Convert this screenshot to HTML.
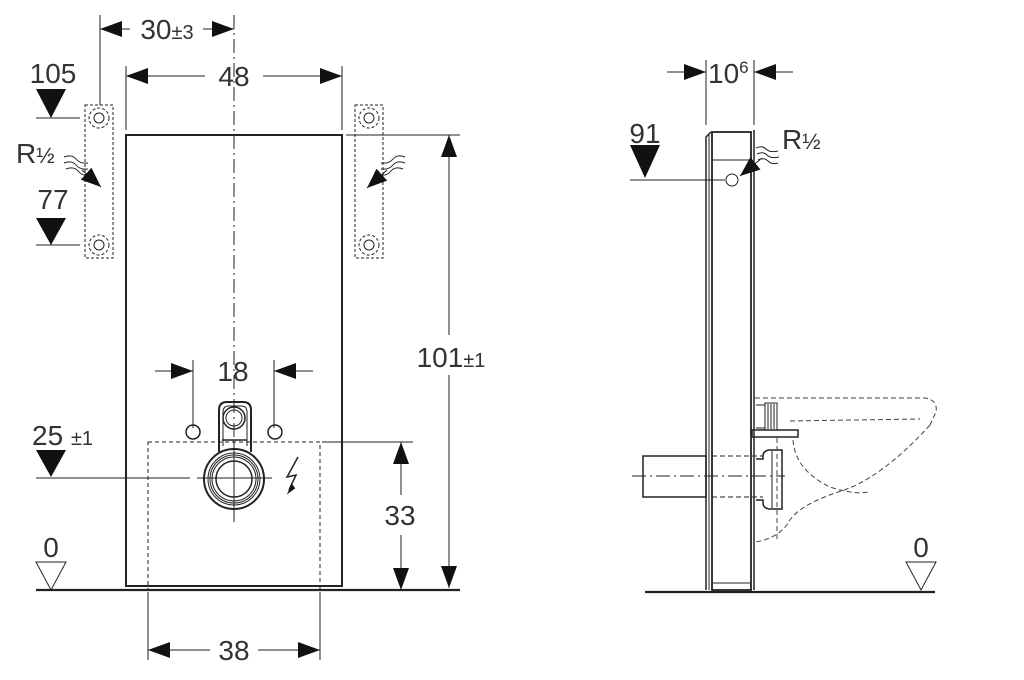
<!DOCTYPE html>
<html><head><meta charset="utf-8"><style>
html,body{margin:0;padding:0;background:#fff}
svg{display:block}
text{font-family:"Liberation Sans",sans-serif;fill:#333}
</style></head><body>
<svg width="1024" height="680" viewBox="0 0 1024 680" xmlns="http://www.w3.org/2000/svg">
<defs>
<marker id="a" viewBox="0 0 22 16" refX="22" refY="8" markerWidth="22" markerHeight="16" markerUnits="userSpaceOnUse" orient="auto"><path d="M0,0L22,8L0,16z" fill="#111"/></marker>
<marker id="b" viewBox="0 0 20 16" refX="20" refY="8" markerWidth="20" markerHeight="16" markerUnits="userSpaceOnUse" orient="auto"><path d="M0,0L20,8L0,16z" fill="#111"/></marker>
</defs>
<g stroke="#222" fill="none" stroke-width="1">
<!-- LEFT VIEW -->
<rect x="126" y="135" width="216" height="451" stroke-width="2"/>
<line x1="36" y1="590" x2="460" y2="590" stroke-width="2.2"/>
<line x1="234" y1="15" x2="234" y2="520" stroke-dasharray="14,4,2,4"/>
<!-- 30±3 -->
<line x1="100" y1="15" x2="100" y2="105"/>
<path d="M130,29 L100,29" marker-end="url(#a)"/>
<path d="M203,29 L234,29" marker-end="url(#a)"/>
<!-- 48 -->
<line x1="126" y1="66" x2="126" y2="130"/>
<line x1="342" y1="66" x2="342" y2="130"/>
<path d="M205,76 L126,76" marker-end="url(#a)"/>
<path d="M263,76 L342,76" marker-end="url(#a)"/>
<!-- brackets -->
<rect x="85" y="105" width="28" height="153" stroke-dasharray="3,2"/>
<rect x="355" y="105" width="28" height="153" stroke-dasharray="3,2"/>
<circle cx="99" cy="118" r="10" stroke-dasharray="3,2"/>
<circle cx="99" cy="245" r="10" stroke-dasharray="3,2"/>
<circle cx="369" cy="118" r="10" stroke-dasharray="3,2"/>
<circle cx="369" cy="245" r="10" stroke-dasharray="3,2"/>
<circle cx="99" cy="118" r="5"/><circle cx="99" cy="245" r="5"/>
<circle cx="369" cy="118" r="5"/><circle cx="369" cy="245" r="5"/>
<line x1="36" y1="118" x2="80" y2="118"/>
<line x1="36" y1="245" x2="80" y2="245"/>
<!-- R arrows -->
<path d="M64,157 q8,-3 12,2 t12,4 M64,163 q8,-3 12,2 t12,4 M66,169 q8,-3 12,2 t10,4"/>
<path d="M82,170 L101,187" marker-end="url(#b)"/>
<path d="M405,157 q-8,-3 -12,2 t-12,4 M405,163 q-8,-3 -12,2 t-12,4 M403,169 q-8,-3 -12,2 t-10,4"/>
<path d="M387,170 L367,188" marker-end="url(#b)"/>
<!-- 101 -->
<line x1="346" y1="135" x2="460" y2="135"/>
<path d="M449,335 L449,135" marker-end="url(#a)"/>
<path d="M449,375 L449,588" marker-end="url(#a)"/>
<!-- 18 -->
<line x1="193" y1="360" x2="193" y2="428"/>
<line x1="274" y1="360" x2="274" y2="428"/>
<path d="M155,371 L193,371" marker-end="url(#a)"/>
<path d="M313,371 L274,371" marker-end="url(#a)"/>
<circle cx="193" cy="432" r="7" stroke-width="1.5"/>
<circle cx="275" cy="432" r="7" stroke-width="1.5"/>
<!-- flush bend -->
<path d="M219,452 L219,410 q0,-8 8,-8 h16 q8,0 8,8 L251,452" stroke-width="2"/>
<path d="M223,446 L223,412 q0,-6 6,-6 h12 q6,0 6,6 L247,446"/>
<circle cx="234" cy="418" r="11" stroke-width="1.5"/>
<circle cx="234" cy="418" r="8"/>
<line x1="222" y1="440" x2="247" y2="440" stroke-width="1.5"/>
<circle cx="234" cy="479" r="30" fill="#fff" stroke-width="2"/>
<circle cx="234" cy="479" r="26"/>
<circle cx="234" cy="479" r="24"/>
<circle cx="234" cy="479" r="22"/>
<circle cx="234" cy="479" r="18" stroke-width="1.5"/>
<line x1="234" y1="440" x2="234" y2="522"/>
<!-- dashed box -->
<rect x="148" y="442" width="172" height="148" stroke-dasharray="4,3"/>
<line x1="322" y1="442" x2="413" y2="442"/>
<path d="M401,495 L401,442" marker-end="url(#a)"/>
<path d="M401,535 L401,590" marker-end="url(#a)"/>
<!-- 25 line -->
<line x1="36" y1="478" x2="190" y2="478"/>
<line x1="197" y1="478" x2="272" y2="478"/>
<!-- lightning -->
<path d="M298,457 L287,477 L296,475 L289,490" stroke-width="1.5"/>
<path d="M292,484 L288,493 L295,488" fill="#111"/>
<!-- 38 -->
<line x1="148" y1="592" x2="148" y2="660"/>
<line x1="320" y1="592" x2="320" y2="660"/>
<path d="M210,650 L148,650" marker-end="url(#a)"/>
<path d="M258,650 L320,650" marker-end="url(#a)"/>
<!-- datum triangles -->
<path d="M36,562 L66,562 L51,590 z"/>
<path d="M906,562 L936,562 L921,590 z"/>
<!-- RIGHT VIEW -->
<line x1="645" y1="592" x2="935" y2="592" stroke-width="2.2"/>
<line x1="706" y1="60" x2="706" y2="125"/>
<line x1="754" y1="60" x2="754" y2="125"/>
<path d="M667,72 L706,72" marker-end="url(#a)"/>
<path d="M793,72 L754,72" marker-end="url(#a)"/>
<path d="M706,590 L706,137 L711,132" stroke-width="1.5"/>
<line x1="709" y1="590" x2="709" y2="135"/>
<rect x="712" y="132" width="39" height="458" stroke-width="1.8"/>
<line x1="713" y1="583" x2="750" y2="583"/>
<line x1="754" y1="130" x2="754" y2="590" stroke-width="1.5"/>
<line x1="712" y1="160" x2="750" y2="160"/>
<circle cx="732" cy="180" r="6"/>
<line x1="630" y1="180" x2="725" y2="180"/>
<path d="M756,148 q6,-3 10,1 t12,2 M757,154 q6,-3 10,1 t12,2 M758,160 q6,-3 10,1 t10,2"/>
<path d="M762,158 L740,176" marker-end="url(#b)"/>
<!-- pipe -->
<rect x="643" y="456" width="63" height="41" stroke-width="1.5"/>
<line x1="632" y1="476" x2="785" y2="476" stroke-dasharray="14,4,2,4"/>
<line x1="712" y1="456" x2="763" y2="456" stroke-dasharray="5,3"/>
<line x1="712" y1="497" x2="763" y2="497" stroke-dasharray="5,3"/>
<!-- connector -->
<path d="M756,459 h7 v-3 q0,-5 6,-6 h13 v59 h-13 q-6,-1 -6,-6 v-3 h-7" stroke-width="1.5"/>
<line x1="772" y1="451" x2="772" y2="508"/>
<!-- shelf/bolt -->
<rect x="752" y="430" width="46" height="7" stroke-width="1.5"/>
<rect x="765" y="403" width="12" height="27"/>
<line x1="768" y1="404" x2="768" y2="429"/><line x1="771" y1="404" x2="771" y2="429"/><line x1="774" y1="404" x2="774" y2="429"/>
<path d="M756,405 h9 M756,428 h9"/>
<!-- toilet dashed -->
<g stroke-dasharray="5,3" stroke="#444">
<path d="M755,398 L925,398 Q938,400 936,412 L930,425"/>
<path d="M790,421 L920,419"/>
<path d="M930,425 Q880,480 838,492 Q800,505 790,520 Q780,538 755,542"/>
<path d="M793,440 Q795,470 830,487 Q855,495 868,492"/>
<line x1="777" y1="438" x2="777" y2="540"/>
</g>
</g>
<g fill="#111">
<path d="M36,89 L66,89 L51,118 z"/>
<path d="M36,218 L66,218 L51,245 z"/>
<path d="M36,450 L66,450 L51,477 z"/>
<path d="M630,145 L660,145 L645,178 z"/>
</g>
<g font-size="28">
<text x="167" y="39" text-anchor="middle">30<tspan font-size="20">±3</tspan></text>
<text x="234" y="86" text-anchor="middle">48</text>
<text x="53" y="83" text-anchor="middle">105</text>
<text x="16" y="163">R<tspan font-size="22">½</tspan></text>
<text x="53" y="209" text-anchor="middle">77</text>
<text x="451" y="367" text-anchor="middle">101<tspan font-size="20">±1</tspan></text>
<text x="233" y="381" text-anchor="middle">18</text>
<text x="32" y="445">25 <tspan font-size="20">±1</tspan></text>
<text x="400" y="525" text-anchor="middle">33</text>
<text x="51" y="557" text-anchor="middle">0</text>
<text x="234" y="660" text-anchor="middle">38</text>
<text x="708" y="83">10<tspan font-size="17" dy="-10">6</tspan></text>
<text x="645" y="143" text-anchor="middle">91</text>
<text x="782" y="149">R<tspan font-size="22">½</tspan></text>
<text x="921" y="557" text-anchor="middle">0</text>
</g>
</svg>
</body></html>
